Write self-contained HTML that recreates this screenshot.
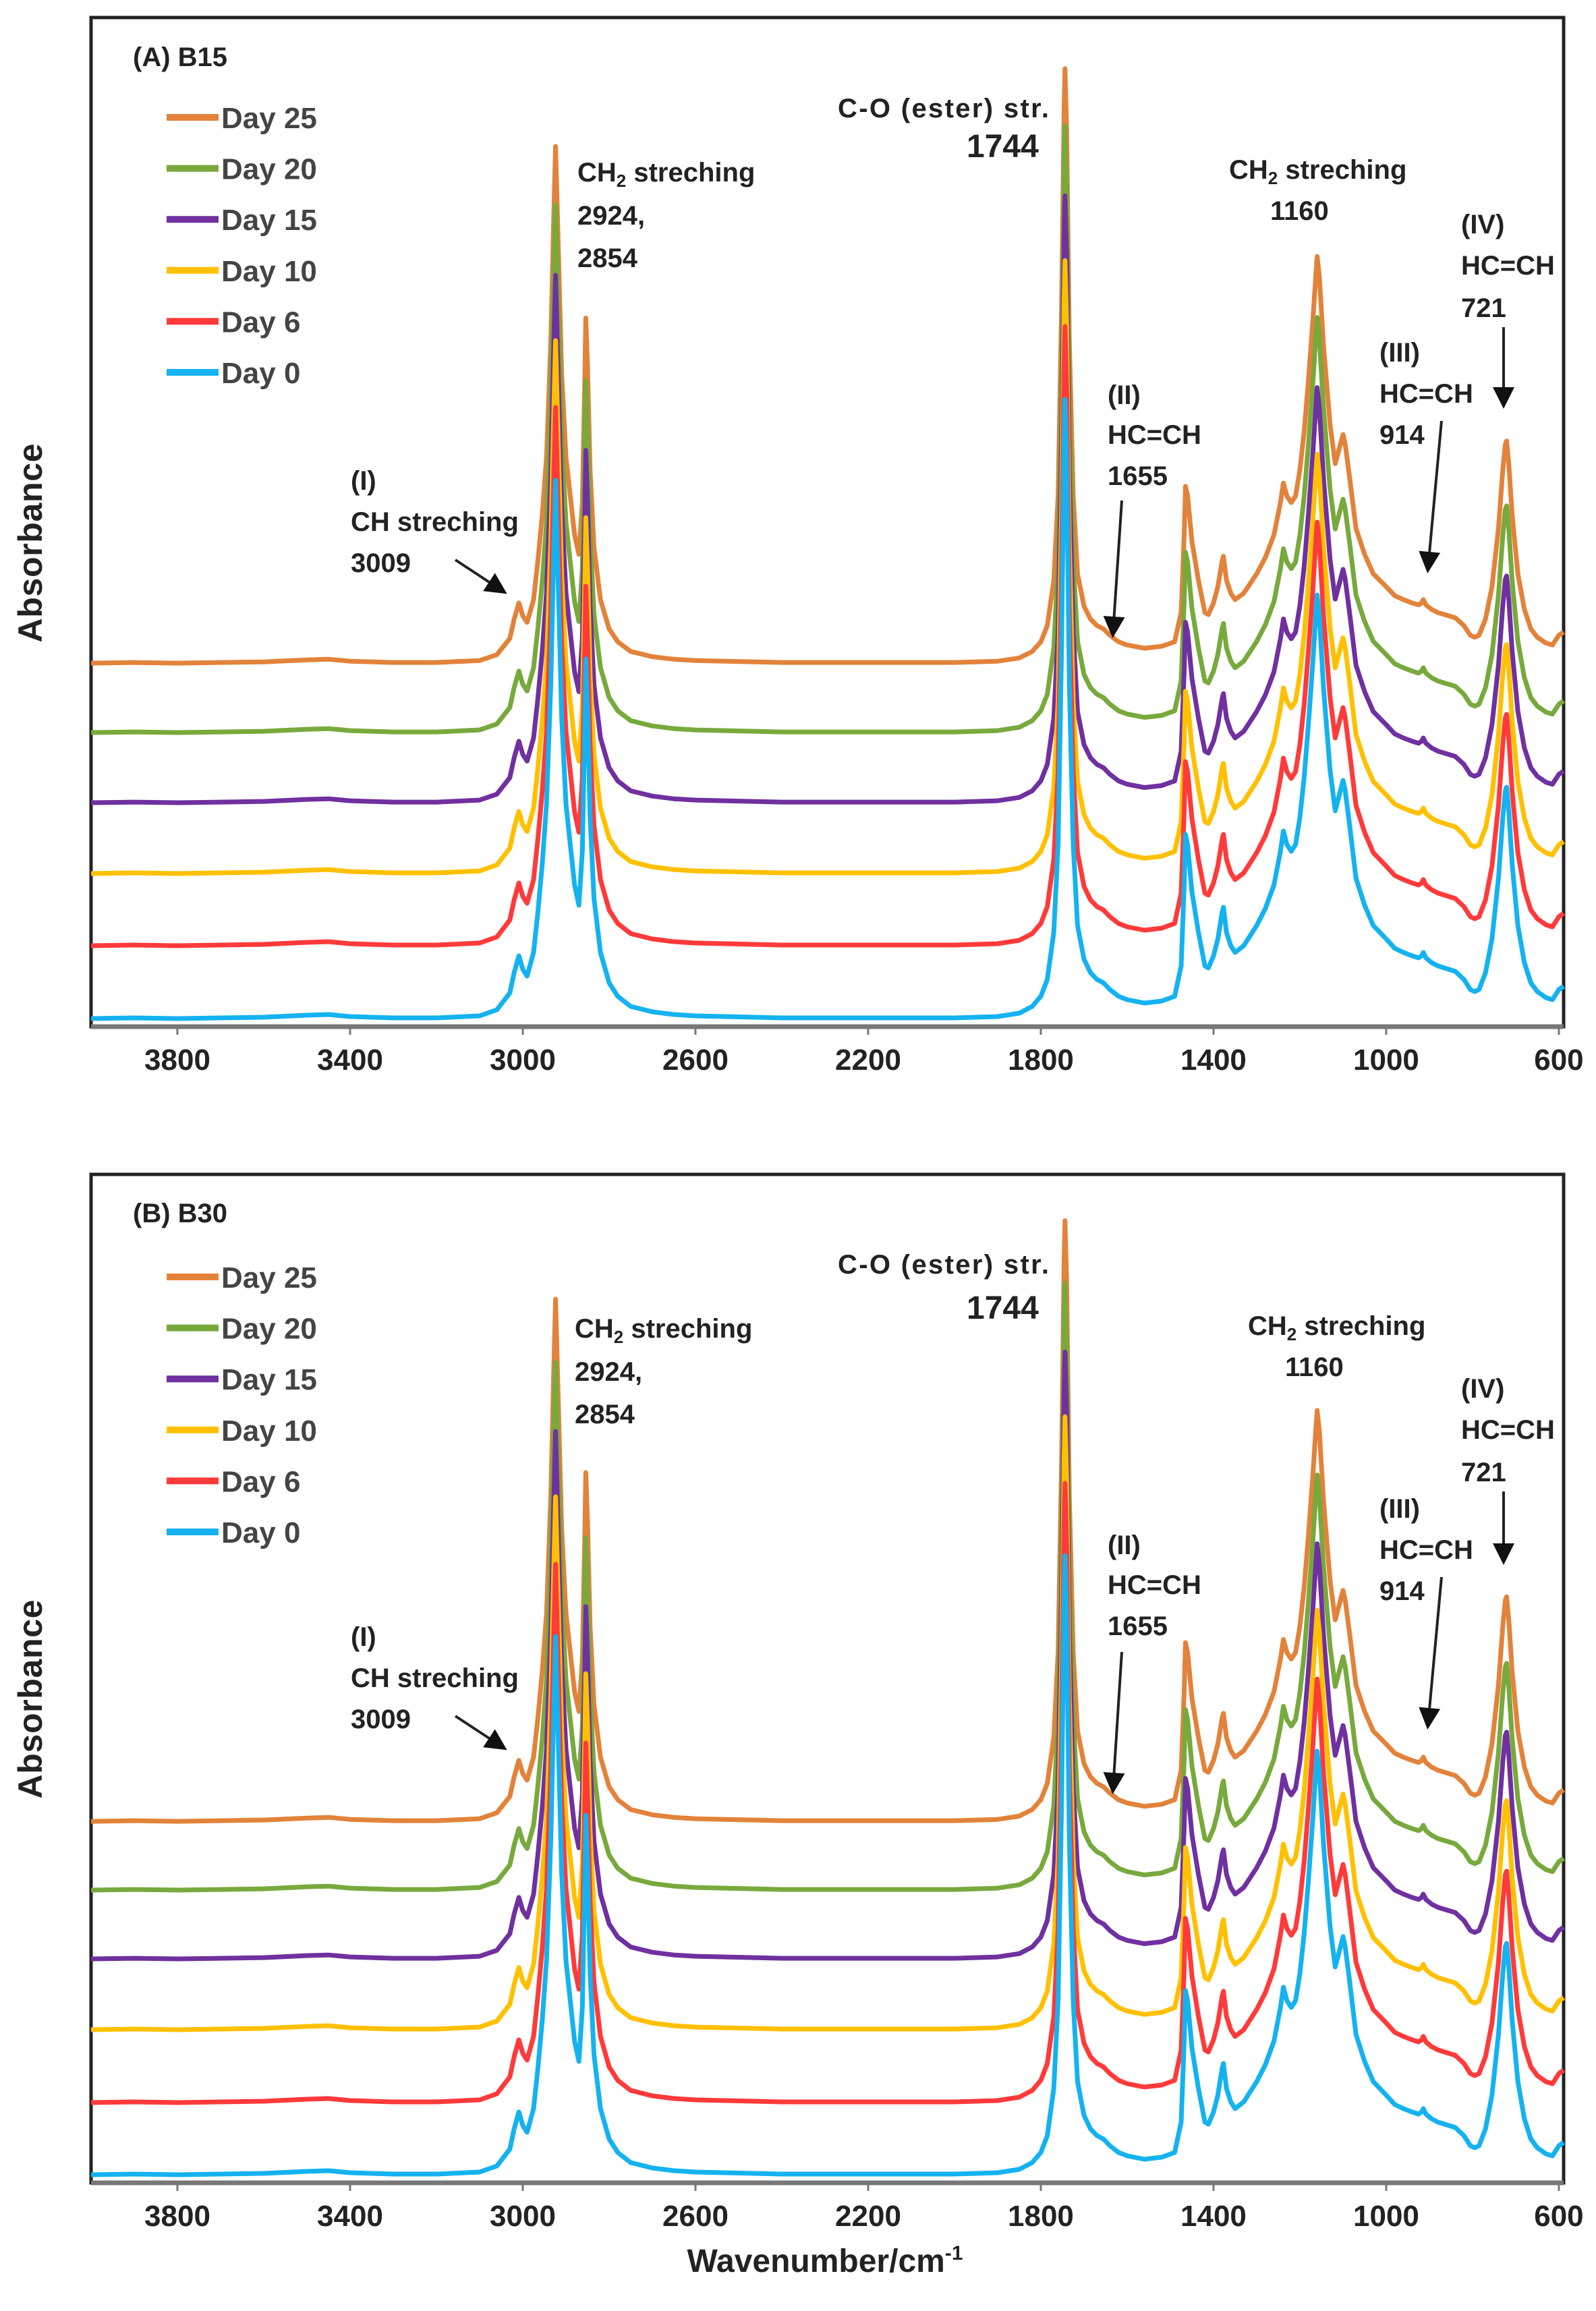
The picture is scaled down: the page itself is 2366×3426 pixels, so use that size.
<!DOCTYPE html>
<html><head><meta charset="utf-8"><style>
html,body{margin:0;padding:0;background:#fff}
svg{display:block}
text{font-family:"Liberation Sans",sans-serif;font-weight:bold;fill:#222}
.ann{font-size:40px}
.leg{font-size:44px;fill:#444}
.tick{font-size:44px;fill:#222}
</style></head><body>
<svg id="fig" width="2366" height="3426" viewBox="0 0 2366 3426" xmlns="http://www.w3.org/2000/svg">
<defs><marker id="ah" markerWidth="8" markerHeight="8" refX="6" refY="4" orient="auto" markerUnits="strokeWidth"><path d="M0,0 L8,4 L0,8 z" fill="#111"/></marker></defs>
<rect width="2366" height="3426" fill="#fff"/>
<g id="panelA"></g>
<g id="panelB"></g>

<!-- Panel A annotations -->
<g>
<text x="197" y="98" font-size="40">(A) B15</text>
<text class="ann" x="856" y="269">CH<tspan font-size="26" dy="8">2</tspan><tspan dy="-8"> streching</tspan></text>
<text class="ann" x="856" y="333">2924,</text>
<text class="ann" x="856" y="396">2854</text>
<text class="ann" x="1242" y="174" textLength="313">C-O (ester) str.</text>
<text x="1433" y="233" font-size="48">1744</text>
<text class="ann" x="1822" y="265">CH<tspan font-size="26" dy="8">2</tspan><tspan dy="-8"> streching</tspan></text>
<text class="ann" x="1883" y="326">1160</text>
<text class="ann" x="2166" y="346">(IV)</text>
<text class="ann" x="2166" y="407">HC=CH</text>
<text class="ann" x="2166" y="470">721</text>
<text class="ann" x="2045" y="536">(III)</text>
<text class="ann" x="2045" y="597">HC=CH</text>
<text class="ann" x="2045" y="658">914</text>
<text class="ann" x="1642" y="599">(II)</text>
<text class="ann" x="1642" y="658">HC=CH</text>
<text class="ann" x="1642" y="719">1655</text>
<text class="ann" x="520" y="726">(I)</text>
<text class="ann" x="520" y="787">CH streching</text>
<text class="ann" x="520" y="848">3009</text>
<line x1="675" y1="830" x2="745" y2="876" stroke="#222" stroke-width="4" marker-end="url(#ah)"/>
<line x1="1663" y1="742" x2="1650" y2="938" stroke="#222" stroke-width="4" marker-end="url(#ah)"/>
<line x1="2137" y1="624" x2="2117" y2="842" stroke="#222" stroke-width="4" marker-end="url(#ah)"/>
<line x1="2229" y1="485" x2="2229" y2="598" stroke="#222" stroke-width="4" marker-end="url(#ah)"/>
<text x="62" y="805" font-size="50" textLength="295" transform="rotate(-90 62 805)" text-anchor="middle" dy="0">Absorbance</text>
</g>

<!-- Panel B annotations -->
<g transform="translate(0,1714)">
<text x="197" y="98" font-size="40">(B) B30</text>
<text class="ann" x="852" y="269">CH<tspan font-size="26" dy="8">2</tspan><tspan dy="-8"> streching</tspan></text>
<text class="ann" x="852" y="333">2924,</text>
<text class="ann" x="852" y="396">2854</text>
<text class="ann" x="1242" y="174" textLength="313">C-O (ester) str.</text>
<text x="1433" y="241" font-size="48">1744</text>
<text class="ann" x="1850" y="265">CH<tspan font-size="26" dy="8">2</tspan><tspan dy="-8"> streching</tspan></text>
<text class="ann" x="1905" y="326">1160</text>
<text class="ann" x="2166" y="358">(IV)</text>
<text class="ann" x="2166" y="419">HC=CH</text>
<text class="ann" x="2166" y="482">721</text>
<text class="ann" x="2045" y="536">(III)</text>
<text class="ann" x="2045" y="597">HC=CH</text>
<text class="ann" x="2045" y="658">914</text>
<text class="ann" x="1642" y="590">(II)</text>
<text class="ann" x="1642" y="649">HC=CH</text>
<text class="ann" x="1642" y="710">1655</text>
<text class="ann" x="520" y="726">(I)</text>
<text class="ann" x="520" y="787">CH streching</text>
<text class="ann" x="520" y="848">3009</text>
<line x1="675" y1="830" x2="745" y2="876" stroke="#222" stroke-width="4" marker-end="url(#ah)"/>
<line x1="1663" y1="735" x2="1650" y2="938" stroke="#222" stroke-width="4" marker-end="url(#ah)"/>
<line x1="2137" y1="624" x2="2117" y2="842" stroke="#222" stroke-width="4" marker-end="url(#ah)"/>
<line x1="2229" y1="497" x2="2229" y2="598" stroke="#222" stroke-width="4" marker-end="url(#ah)"/>
<text x="62" y="805" font-size="50" textLength="295" transform="rotate(-90 62 805)" text-anchor="middle">Absorbance</text>
</g>
<text x="1223" y="3368" font-size="48" text-anchor="middle">Wavenumber/cm<tspan font-size="30" dy="-18">-1</tspan></text>
</svg>
<script>
const wavenumbers=[4000,3900,3800,3700,3600,3500,3450,3400,3300,3200,3100,3060,3030,3020,3009,3000,2990,2975,2965,2955,2945,2935,2928,2924,2918,2910,2900,2890,2880,2870,2862,2856,2854,2850,2844,2835,2820,2800,2780,2750,2700,2650,2600,2400,2200,2000,1900,1850,1820,1800,1785,1770,1760,1752,1746,1744,1740,1734,1725,1715,1700,1685,1670,1655,1640,1620,1600,1560,1520,1490,1475,1468,1465,1460,1450,1435,1420,1412,1400,1390,1380,1377,1370,1360,1350,1330,1300,1280,1260,1245,1238,1230,1220,1210,1200,1190,1180,1170,1163,1160,1155,1145,1130,1118,1110,1100,1095,1085,1070,1050,1030,1000,980,960,940,925,918,914,908,895,880,860,840,820,805,795,785,770,755,740,730,724,721,716,708,695,680,665,650,630,615,600,589];
const absorbance=[0.02,0.03,0.02,0.03,0.04,0.07,0.08,0.05,0.03,0.03,0.06,0.15,0.4,0.7,0.95,0.75,0.65,1.0,1.6,2.3,3.2,5.0,7.0,8.0,6.5,4.5,3.2,2.6,2.0,1.7,2.5,4.5,5.35,4.6,3.0,1.8,1.0,0.55,0.35,0.2,0.12,0.08,0.06,0.03,0.03,0.03,0.05,0.1,0.2,0.35,0.6,1.3,2.6,5.5,8.6,9.2,8.2,5.0,2.6,1.4,0.9,0.7,0.6,0.55,0.45,0.35,0.3,0.25,0.28,0.35,0.8,2.0,2.75,2.6,1.9,1.3,0.8,0.77,0.95,1.2,1.6,1.67,1.3,1.1,1.0,1.1,1.4,1.65,2.0,2.5,2.8,2.6,2.5,2.6,3.0,3.6,4.4,5.3,6.0,6.3,6.0,4.9,3.7,3.1,3.3,3.55,3.4,2.9,2.1,1.7,1.4,1.2,1.06,1.0,0.95,0.92,0.95,1.0,0.92,0.85,0.8,0.76,0.72,0.6,0.45,0.42,0.45,0.7,1.2,2.1,3.0,3.4,3.45,3.1,2.3,1.4,0.85,0.55,0.42,0.33,0.3,0.45,0.5];
const dayLabels=["Day 25","Day 20","Day 15","Day 10","Day 6","Day 0"];
const dayColors=["#E3823A","#77A93C","#7030A0","#FFC000","#FF3A3A","#14B2F0"];
const offsetsA=[5.27,4.24,3.2,2.15,1.08,0];
const offsetsB=[5.24,4.22,3.2,2.15,1.07,0];
const scalesA=[0.96,0.98,0.98,0.99,1.0,1.0];
const scalesB=[0.97,0.98,0.98,0.99,1.0,1.0];
const xTicks=[3800,3400,3000,2600,2200,1800,1400,1000,600];
const xTickLabels=["3800","3400","3000","2600","2200","1800","1400","1000","600"];

const NS="http://www.w3.org/2000/svg";
function mk(tag,attrs,parent){const e=document.createElementNS(NS,tag);for(const k in attrs)e.setAttribute(k,attrs[k]);parent.appendChild(e);return e;}
const L=135,R=2318,W0=4000,W1=589;
function xScale(w){return L+(W0-w)/(W0-W1)*(R-L);}
function drawPanel(g,top,bottom,offsets,scales,legendTop,base){
  const yScale=a=>base-a*100;
  const frame=mk('rect',{x:L,y:top,width:R-L,height:bottom-top,fill:'none',stroke:'#222','stroke-width':5},g);
  
  
  for(let i=0;i<dayLabels.length;i++){
    let d='';
    for(let j=0;j<wavenumbers.length;j++){
      d+=(j?'L':'M')+xScale(wavenumbers[j]).toFixed(1)+','+yScale(offsets[i]+absorbance[j]*scales[i]).toFixed(1);
    }
    const p=mk('path',{d:d,fill:'none',stroke:dayColors[i],'stroke-width':7,'stroke-linejoin':'round'},g);
    
    
  }
  const ax=mk('line',{x1:L,x2:R,y1:bottom,y2:bottom,stroke:'#777','stroke-width':7},g);
  
  
  for(let i=0;i<xTicks.length;i++){
    const x=xScale(xTicks[i]);
    const t=mk('line',{x1:x,x2:x,y1:bottom,y2:bottom+12,stroke:'#777','stroke-width':3},g);
    
    
    const lb=mk('text',{x:Math.min(x,2320),y:bottom+64,'text-anchor':'middle',class:'tick'},g);
    lb.textContent=xTickLabels[i];
    
    
  }
  for(let i=0;i<dayLabels.length;i++){
    const y=legendTop+i*75.6;
    const ln=mk('line',{x1:247,x2:324,y1:y,y2:y,stroke:dayColors[i],'stroke-width':10},g);
    
    
    const tx=mk('text',{x:328,y:y+16,class:'leg'},g);
    tx.textContent=dayLabels[i];
    
    
  }
}
drawPanel(document.getElementById('panelA'),26,1522,offsetsA,scalesA,174,1512);
drawPanel(document.getElementById('panelB'),1741,3236,offsetsB,scalesB,1893,3226);
</script>
</body></html>
